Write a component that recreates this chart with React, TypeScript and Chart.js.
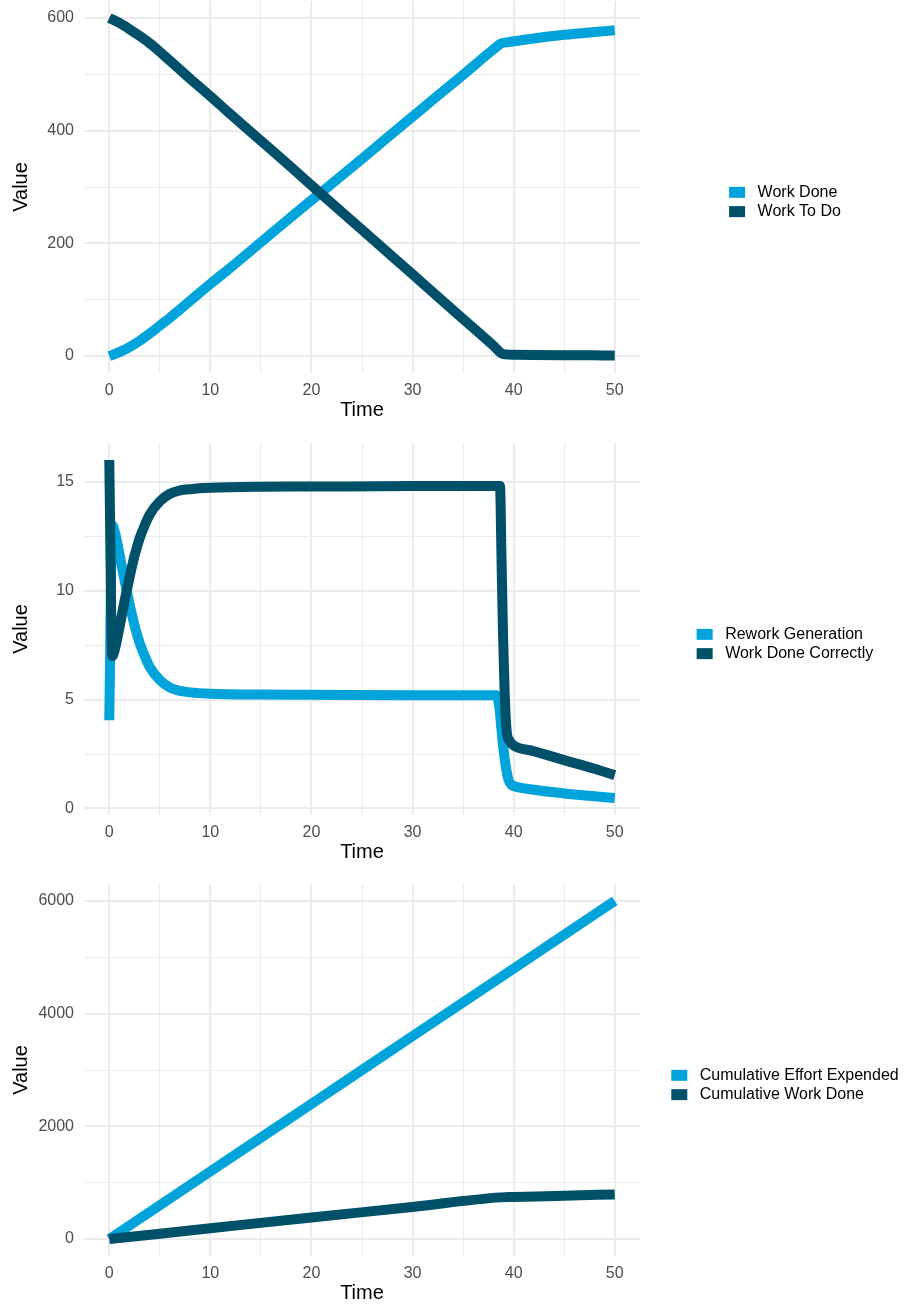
import React, { useEffect, useRef } from 'react';
import { Chart, registerables } from 'chart.js';

Chart.register(...registerables);

const LIGHT_BLUE = '#00A3DA';
const DARK_TEAL = '#00506A';
const FONT = "'Liberation Sans', Arial, Helvetica, sans-serif";

// Shared time axis
const timeTicks = [0, 10, 20, 30, 40, 50];
const timeMinorTicks = [5, 15, 25, 35, 45];

// Panel 1: project stocks
const stockTime = [0, 1, 2, 3, 4, 5, 6, 7, 8, 10, 12, 15, 18, 21, 25, 30, 35, 38, 38.8, 39.5, 40, 42, 45, 48, 50];
const workDone = [0, 7, 16, 27, 40, 54, 68, 83, 98, 128, 157, 202, 247, 291, 350, 425, 499, 544, 555, 557, 558.5, 563.5, 570, 575, 578];
const workToDo = [600, 591, 580, 568, 555, 540, 524, 508, 492, 461, 429, 382, 335, 287, 224, 145, 66, 18.5, 5, 2.6, 2.4, 2.1, 1.7, 1.3, 1.1];
const stockTicks = [0, 200, 400, 600];
const stockMinorTicks = [100, 300, 500];

// Panel 2: work flows
const reworkTime = [0, 0.3, 0.6, 1, 1.5, 2, 2.5, 3, 3.5, 4, 5, 6, 7, 8, 10, 15, 20, 30, 38.3, 38.6, 38.8, 39.0, 39.2, 39.5, 39.8, 40, 42, 45, 48, 50];
const reworkGeneration = [4.05, 13.0, 12.6, 11.7, 10.5, 9.4, 8.4, 7.6, 7.0, 6.5, 5.9, 5.55, 5.4, 5.33, 5.27, 5.23, 5.22, 5.2, 5.2, 4.6, 3.6, 2.7, 2.0, 1.3, 1.08, 1.03, 0.86, 0.69, 0.56, 0.48];
const correctTime = [0, 0.3, 0.6, 1, 1.5, 2, 2.5, 3, 3.5, 4, 5, 6, 7, 8, 10, 15, 20, 30, 38.65, 38.8, 38.95, 39.1, 39.3, 39.6, 40, 42, 45, 48, 50];
const workDoneCorrectly = [16, 7.0, 7.4, 8.3, 9.5, 10.6, 11.6, 12.4, 13.0, 13.5, 14.1, 14.45, 14.6, 14.66, 14.72, 14.77, 14.78, 14.8, 14.8, 11.5, 8.0, 5.5, 3.6, 3.1, 2.9, 2.63, 2.22, 1.82, 1.53];
const flowTicks = [0, 5, 10, 15];
const flowMinorTicks = [2.5, 7.5, 12.5];

// Panel 3: cumulative totals
const effortTime = [0, 10, 20, 30, 40, 50];
const cumulativeEffort = [0, 1200, 2400, 3600, 4800, 6000];
const cumWorkTime = [0, 5, 10, 20, 30, 38.7, 40, 45, 50];
const cumulativeWorkDone = [0, 96, 192, 384, 570, 740, 746, 771, 793];
const cumTicks = [0, 2000, 4000, 6000];
const cumMinorTicks = [1000, 3000, 5000];

type Series = { label: string; color: string; time: number[]; values: number[]; order: number };
type Panel = {
  top: number;
  yMin: number;
  yMax: number;
  yTicks: number[];
  yMinor: number[];
  series: Series[];
};

const panels: Panel[] = [
  {
    top: 0,
    yMin: -30,
    yMax: 630,
    yTicks: stockTicks,
    yMinor: stockMinorTicks,
    series: [
      { label: 'Work Done', color: LIGHT_BLUE, time: stockTime, values: workDone, order: 1 },
      { label: 'Work To Do', color: DARK_TEAL, time: stockTime, values: workToDo, order: 0 },
    ],
  },
  {
    top: 442,
    yMin: -0.3,
    yMax: 16.78,
    yTicks: flowTicks,
    yMinor: flowMinorTicks,
    series: [
      { label: 'Rework Generation', color: LIGHT_BLUE, time: reworkTime, values: reworkGeneration, order: 1 },
      { label: 'Work Done Correctly', color: DARK_TEAL, time: correctTime, values: workDoneCorrectly, order: 0 },
    ],
  },
  {
    top: 883,
    yMin: -300,
    yMax: 6300,
    yTicks: cumTicks,
    yMinor: cumMinorTicks,
    series: [
      { label: 'Cumulative Effort Expended', color: LIGHT_BLUE, time: effortTime, values: cumulativeEffort, order: 1 },
      { label: 'Cumulative Work Done', color: DARK_TEAL, time: cumWorkTime, values: cumulativeWorkDone, order: 0 },
    ],
  },
];

const CANVAS_W = 907;
const CANVAS_H = 422;

// Legend drawn to the right of the plot area, keys shaped like thick line segments
function sideLegend(series: Series[]) {
  return {
    id: 'sideLegend',
    afterDraw(chart: any) {
      const ctx = chart.ctx as CanvasRenderingContext2D;
      ctx.save();
      ctx.font = `16px ${FONT}`;
      const keyW = 16;
      const keyH = 11;
      const gap = 12.5;
      const rowH = 19.3;
      const textW = Math.max(...series.map((s) => ctx.measureText(s.label).width));
      const total = keyW + gap + textW;
      const centerX = chart.chartArea.right + 145;
      const centerY = 202;
      const left = centerX - total / 2;
      const y0 = centerY - (rowH * (series.length - 1)) / 2;
      series.forEach((s, i) => {
        const y = y0 + i * rowH;
        ctx.fillStyle = s.color;
        ctx.fillRect(left, y - keyH / 2, keyW, keyH);
        ctx.fillStyle = '#000000';
        ctx.textAlign = 'left';
        ctx.textBaseline = 'middle';
        ctx.fillText(s.label, left + keyW + gap, y);
      });
      ctx.restore();
    },
  };
}

function PanelChart({ panel }: { panel: Panel }) {
  const ref = useRef<HTMLCanvasElement>(null);

  useEffect(() => {
    if (!ref.current) return;
    const xAll = [...timeTicks, ...timeMinorTicks].sort((a, b) => a - b);
    const yAll = [...panel.yTicks, ...panel.yMinor].sort((a, b) => a - b);

    const chart = new Chart(ref.current, {
      type: 'line',
      data: {
        datasets: panel.series.map((s) => ({
          label: s.label,
          data: s.time.map((t, i) => ({ x: t, y: s.values[i] })),
          borderColor: s.color,
          backgroundColor: s.color,
          borderWidth: 10,
          borderCapStyle: 'butt',
          borderJoinStyle: 'round',
          cubicInterpolationMode: 'monotone',
          pointRadius: 0,
          pointHoverRadius: 0,
          fill: false,
          order: s.order,
        })),
      },
      options: {
        animation: false,
        responsive: false,
        maintainAspectRatio: false,
        devicePixelRatio: 1,
        events: [],
        layout: { padding: { top: 1, right: CANVAS_W - 640, bottom: 0, left: 0 } },
        plugins: {
          legend: { display: false },
          tooltip: { enabled: false },
        },
        scales: {
          x: {
            type: 'linear',
            min: -2.5,
            max: 52.5,
            afterBuildTicks: (scale: any) => {
              scale.ticks = xAll.map((v) => ({ value: v }));
            },
            afterFit: (scale: any) => {
              scale.height = 49;
              scale.paddingLeft = 0;
              scale.paddingRight = 0;
            },
            ticks: {
              autoSkip: false,
              maxRotation: 0,
              padding: 8,
              color: '#4D4D4D',
              font: { family: FONT, size: 16 },
              callback: (v: any) => (timeTicks.includes(Number(v)) ? String(v) : ''),
            },
            grid: {
              color: '#EBEBEB',
              lineWidth: (c: any) => (c.tick && timeTicks.includes(c.tick.value) ? 2 : 1),
              drawTicks: false,
            },
            border: { display: false },
            title: {
              display: true,
              text: 'Time',
              color: '#000000',
              font: { family: FONT, size: 20 },
              padding: { top: 0, bottom: 0 },
            },
          },
          y: {
            type: 'linear',
            min: panel.yMin,
            max: panel.yMax,
            afterBuildTicks: (scale: any) => {
              scale.ticks = yAll.map((v) => ({ value: v }));
            },
            afterFit: (scale: any) => {
              scale.width = 84;
              scale.paddingTop = 0;
              scale.paddingBottom = 0;
            },
            ticks: {
              autoSkip: false,
              padding: 10,
              color: '#4D4D4D',
              font: { family: FONT, size: 16 },
              callback: (v: any) => (panel.yTicks.includes(Number(v)) ? String(v) : ''),
            },
            grid: {
              color: '#EBEBEB',
              lineWidth: (c: any) => (c.tick && panel.yTicks.includes(c.tick.value) ? 2 : 1),
              drawTicks: false,
            },
            border: { display: false },
            title: {
              display: true,
              text: 'Value',
              color: '#000000',
              font: { family: FONT, size: 20 },
              padding: { top: 9, bottom: 0 },
            },
          },
        },
      } as any,
      plugins: [sideLegend(panel.series)],
    } as any);

    return () => chart.destroy();
  }, [panel]);

  return (
    <canvas
      ref={ref}
      width={CANVAS_W}
      height={CANVAS_H}
      style={{ position: 'absolute', left: 0, top: panel.top, display: 'block' }}
    />
  );
}

export default function App() {
  return (
    <div
      style={{
        position: 'absolute',
        left: 0,
        top: 0,
        width: CANVAS_W,
        height: 1305,
        background: '#ffffff',
        overflow: 'hidden',
      }}
    >
      {panels.map((p, i) => (
        <PanelChart key={i} panel={p} />
      ))}
    </div>
  );
}
